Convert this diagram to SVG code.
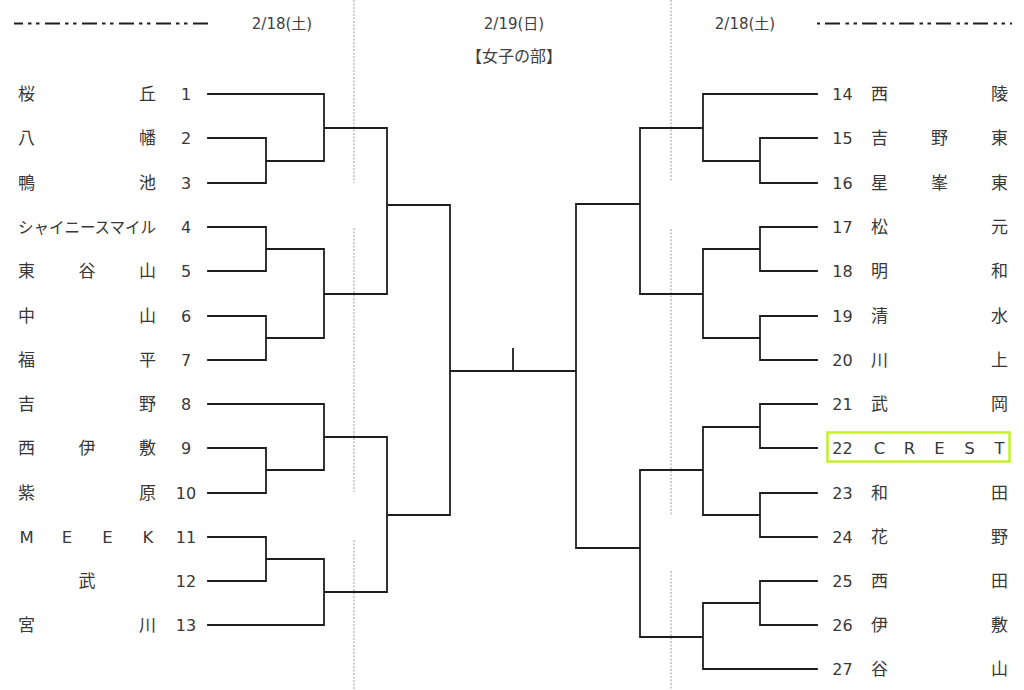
<svg xmlns="http://www.w3.org/2000/svg" width="1024" height="690" viewBox="0 0 1024 690">
<style>
.ln{stroke:#1e1e1e;stroke-width:1.8;fill:none;stroke-linecap:square}
.dv{stroke:#9a9a9a;stroke-width:1;stroke-dasharray:2 1.5;fill:none}
.hd{stroke:#1e1e1e;stroke-width:2;fill:none}
.nm{font-family:"Noto Sans CJK JP",sans-serif;font-size:17px;fill:#383838;text-anchor:middle}
.la{font-family:"DejaVu Sans","Noto Sans CJK JP",sans-serif;font-size:16.5px;fill:#383838;text-anchor:middle}
.no{font-family:"DejaVu Sans",sans-serif;font-size:16px;fill:#383838;text-anchor:middle}
.ht{font-family:"DejaVu Sans","Noto Sans CJK JP",sans-serif;font-size:15px;fill:#404040;text-anchor:middle}
.ti{font-family:"Noto Sans CJK JP",sans-serif;font-size:16px;fill:#404040;text-anchor:middle}
</style>
<rect width="1024" height="690" fill="#ffffff"/>

<g id="header">
<path class="hd" d="M14 23.5H208" stroke-dasharray="15 5 3.5 4.5 3.5 5.5" stroke-dashoffset="6"/>
<path class="hd" d="M817 23.5H1012" stroke-dasharray="15 5.5 3.5 4.5 3.5 5" stroke-dashoffset="29"/>
<text class="ht" x="282" y="29">2/18(土)</text>
<text class="ht" x="514" y="29">2/19(日)</text>
<text class="ht" x="745" y="29">2/18(土)</text>
<text class="ti" x="514" y="62">【女子の部】</text>
</g>

<g id="day-dividers">
<path class="dv" d="M354 0V183M354 228V492M354 540V690"/>
<path class="dv" d="M671 0V181M671 229V516M671 571V690"/>
</g>

<g id="connectors">
<path class="ln" d="M208 94H324M208 138H266M208 183H266M266 138V183M266 161H324M324 94V161M324 128H387
M208 227H266M208 271H266M266 227V271M266 249H324M208 316H266M208 360H266M266 316V360M266 338H324M324 249V338M324 294H387
M387 128V294M387 205H450
M208 404H324M208 448H266M208 493H266M266 448V493M266 470H324M324 404V470M324 437H387
M208 537H266M208 581H266M266 537V581M266 559H324M208 625H324M324 559V625M324 592H387
M387 437V592M387 515H450
M450 205V515M450 371H576M513 349V371
M576 204V548M576 204H640M576 548H640
M640 128V294M640 128H703M640 294H703
M703 94V161M703 94H817M703 161H760M760 138V183M760 138H817M760 183H817
M703 249V338M703 249H760M703 338H760M760 227V271M760 227H817M760 271H817M760 316V360M760 316H817M760 360H817
M640 470V637M640 470H703M640 637H703
M703 427V515M703 427H760M703 515H760M760 404V448M760 404H817M760 448H817M760 493V537M760 493H817M760 537H817
M703 603V669M703 603H760M703 669H817M760 581V625M760 581H817M760 625H817"/>
</g>

<g id="team-1"><text class="nm" x="26.5 147.5" y="100">桜丘</text><text class="no" x="186" y="100">1</text></g>
<g id="team-2"><text class="nm" x="26.5 147.5" y="144">八幡</text><text class="no" x="186" y="144">2</text></g>
<g id="team-3"><text class="nm" x="26.5 147.5" y="189">鴨池</text><text class="no" x="186" y="189">3</text></g>
<g id="team-4"><text x="18" y="233" textLength="138" lengthAdjust="spacingAndGlyphs" style="font-family:'Noto Sans CJK JP',sans-serif;font-size:16px;fill:#383838">シャイニースマイル</text><text class="no" x="186" y="233">4</text></g>
<g id="team-5"><text class="nm" x="26.5 87 147.5" y="277">東谷山</text><text class="no" x="186" y="277">5</text></g>
<g id="team-6"><text class="nm" x="26.5 147.5" y="322">中山</text><text class="no" x="186" y="322">6</text></g>
<g id="team-7"><text class="nm" x="26.5 147.5" y="366">福平</text><text class="no" x="186" y="366">7</text></g>
<g id="team-8"><text class="nm" x="26.5 147.5" y="410">吉野</text><text class="no" x="186" y="410">8</text></g>
<g id="team-9"><text class="nm" x="26.5 87 147.5" y="454">西伊敷</text><text class="no" x="186" y="454">9</text></g>
<g id="team-10"><text class="nm" x="26.5 147.5" y="499">紫原</text><text class="no" x="186" y="499">10</text></g>
<g id="team-11"><text class="la" x="26.5 67 107.5 148" y="543">MEEK</text><text class="no" x="186" y="543">11</text></g>
<g id="team-12"><text class="nm" x="87" y="587">武</text><text class="no" x="186" y="587">12</text></g>
<g id="team-13"><text class="nm" x="26.5 147.5" y="631">宮川</text><text class="no" x="186" y="631">13</text></g>

<g id="team-14"><text class="no" x="842.5" y="100">14</text><text class="nm" x="879.5 999.5" y="100">西陵</text></g>
<g id="team-15"><text class="no" x="842.5" y="144">15</text><text class="nm" x="879.5 939.5 999.5" y="144">吉野東</text></g>
<g id="team-16"><text class="no" x="842.5" y="189">16</text><text class="nm" x="879.5 939.5 999.5" y="189">星峯東</text></g>
<g id="team-17"><text class="no" x="842.5" y="233">17</text><text class="nm" x="879.5 999.5" y="233">松元</text></g>
<g id="team-18"><text class="no" x="842.5" y="277">18</text><text class="nm" x="879.5 999.5" y="277">明和</text></g>
<g id="team-19"><text class="no" x="842.5" y="322">19</text><text class="nm" x="879.5 999.5" y="322">清水</text></g>
<g id="team-20"><text class="no" x="842.5" y="366">20</text><text class="nm" x="879.5 999.5" y="366">川上</text></g>
<g id="team-21"><text class="no" x="842.5" y="410">21</text><text class="nm" x="879.5 999.5" y="410">武岡</text></g>
<g id="team-22"><rect x="827.5" y="432.5" width="182" height="29" fill="none" stroke="#c2f02a" stroke-width="2.5"/><text class="no" x="842.5" y="454">22</text><text class="la" x="879.5 909.5 939.5 969.5 999.5" y="454">CREST</text></g>
<g id="team-23"><text class="no" x="842.5" y="499">23</text><text class="nm" x="879.5 999.5" y="499">和田</text></g>
<g id="team-24"><text class="no" x="842.5" y="543">24</text><text class="nm" x="879.5 999.5" y="543">花野</text></g>
<g id="team-25"><text class="no" x="842.5" y="587">25</text><text class="nm" x="879.5 999.5" y="587">西田</text></g>
<g id="team-26"><text class="no" x="842.5" y="631">26</text><text class="nm" x="879.5 999.5" y="631">伊敷</text></g>
<g id="team-27"><text class="no" x="842.5" y="675">27</text><text class="nm" x="879.5 999.5" y="675">谷山</text></g>
</svg>
